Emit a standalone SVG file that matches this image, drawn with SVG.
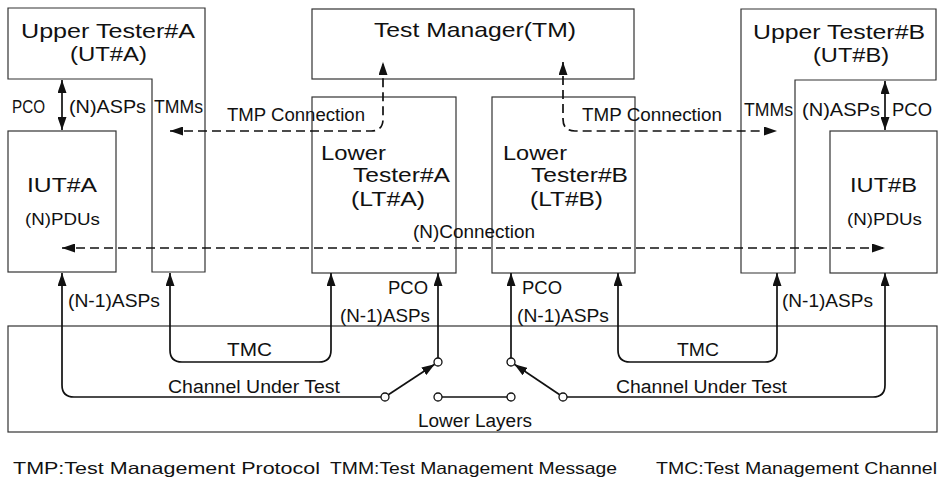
<svg xmlns="http://www.w3.org/2000/svg" width="944" height="479" viewBox="0 0 944 479">
<style>
text{font-family:"Liberation Sans",Arial,Helvetica,sans-serif;fill:#111;}
.big{font-size:21px;}
.med{font-size:18px;}
.sm{font-size:17px;}
.leg{font-size:16.5px;}
.box{fill:#fff;stroke:#333;stroke-width:1.2;}
.ln{fill:none;stroke:#111;stroke-width:1.7;}
.dash{fill:none;stroke:#111;stroke-width:1.7;stroke-dasharray:9 5;}
.sw{fill:#fff;stroke:#111;stroke-width:1.3;}
</style>
<defs>
<marker id="ah" viewBox="0 0 13 9" refX="13" refY="4.5" markerWidth="13" markerHeight="9" markerUnits="userSpaceOnUse" orient="auto-start-reverse">
<path d="M0,0 L13,4.5 L0,9 z" fill="#111"/>
</marker>
</defs>
<rect width="944" height="479" fill="#fff"/>

<g id="lower-layers">
<rect class="box" x="8" y="326" width="929" height="106"/>
<text class="med" x="418" y="427" textLength="114" lengthAdjust="spacingAndGlyphs">Lower Layers</text>
</g>

<g id="ut-a">
<polygon class="box" points="8,8 205,8 205,272 152,272 152,79 8,79"/>
<text class="big" x="21" y="38" textLength="174" lengthAdjust="spacingAndGlyphs">Upper Tester#A</text>
<text class="big" x="70" y="61" textLength="77" lengthAdjust="spacingAndGlyphs">(UT#A)</text>
</g>

<g id="iut-a">
<rect class="box" x="8" y="131" width="108" height="141"/>
<text class="big" x="27" y="192" textLength="70" lengthAdjust="spacingAndGlyphs">IUT#A</text>
<text class="sm" x="25" y="225" textLength="75" lengthAdjust="spacingAndGlyphs">(N)PDUs</text>
</g>

<g id="tm">
<rect class="box" x="312" y="9" width="322" height="70"/>
<text class="big" x="374" y="37" textLength="202" lengthAdjust="spacingAndGlyphs">Test Manager(TM)</text>
</g>

<g id="lt-a">
<rect class="box" x="312" y="97" width="144" height="176"/>
<text class="big" x="321" y="160" textLength="65" lengthAdjust="spacingAndGlyphs">Lower</text>
<text class="big" x="353" y="182" textLength="97" lengthAdjust="spacingAndGlyphs">Tester#A</text>
<text class="big" x="351" y="206" textLength="74" lengthAdjust="spacingAndGlyphs">(LT#A)</text>
</g>

<g id="lt-b">
<rect class="box" x="492" y="97" width="143" height="176"/>
<text class="big" x="503" y="160" textLength="64" lengthAdjust="spacingAndGlyphs">Lower</text>
<text class="big" x="531" y="182" textLength="97" lengthAdjust="spacingAndGlyphs">Tester#B</text>
<text class="big" x="530" y="206" textLength="73" lengthAdjust="spacingAndGlyphs">(LT#B)</text>
</g>

<g id="ut-b">
<polygon class="box" points="741,9 936,9 936,80 795,80 795,273 741,273"/>
<text class="big" x="753" y="39" textLength="172" lengthAdjust="spacingAndGlyphs">Upper Tester#B</text>
<text class="big" x="813" y="62" textLength="76" lengthAdjust="spacingAndGlyphs">(UT#B)</text>
</g>

<g id="iut-b">
<rect class="box" x="830" y="131" width="107" height="142"/>
<text class="big" x="850" y="192" textLength="67" lengthAdjust="spacingAndGlyphs">IUT#B</text>
<text class="sm" x="847" y="225" textLength="75" lengthAdjust="spacingAndGlyphs">(N)PDUs</text>
</g>

<g id="connectors">
<path class="ln" d="M62,80 V130" marker-start="url(#ah)" marker-end="url(#ah)"/>
<path class="ln" d="M885,81 V130" marker-start="url(#ah)" marker-end="url(#ah)"/>
<path class="dash" d="M170,131 H371 Q383,131 383,119 V62" marker-start="url(#ah)" marker-end="url(#ah)"/>
<path class="dash" d="M563,62 V119 Q563,131 575,131 H777" marker-start="url(#ah)" marker-end="url(#ah)"/>
<path class="dash" d="M62,248 H885" marker-start="url(#ah)" marker-end="url(#ah)"/>
<path class="ln" d="M62,273 V385 Q62,397 74,397 H381" marker-start="url(#ah)"/>
<path class="ln" d="M388.3,394.8 L434.7,364.2" marker-end="url(#ah)"/>
<path class="ln" d="M438,358 V273" marker-end="url(#ah)"/>
<path class="ln" d="M170,273 V350 Q170,362 182,362 H319 Q331,362 331,350 V273" marker-start="url(#ah)" marker-end="url(#ah)"/>
<path class="ln" d="M442,397 H507"/>
<path class="ln" d="M559.7,394.8 L514.3,364.3" marker-end="url(#ah)"/>
<path class="ln" d="M511,358 V273" marker-end="url(#ah)"/>
<path class="ln" d="M618,273 V350 Q618,362 630,362 H765 Q777,362 777,350 V273" marker-start="url(#ah)" marker-end="url(#ah)"/>
<path class="ln" d="M567,397 H873 Q885,397 885,385 V273" marker-end="url(#ah)"/>
<circle class="sw" cx="385" cy="397" r="4"/>
<circle class="sw" cx="438" cy="362" r="4"/>
<circle class="sw" cx="438" cy="397" r="4"/>
<circle class="sw" cx="511" cy="397" r="4"/>
<circle class="sw" cx="511" cy="362" r="4"/>
<circle class="sw" cx="563" cy="397" r="4"/>
<text class="med" x="12" y="113" textLength="33" lengthAdjust="spacingAndGlyphs">PCO</text>
<text class="med" x="69" y="113" textLength="77" lengthAdjust="spacingAndGlyphs">(N)ASPs</text>
<text class="med" x="154" y="113" textLength="49" lengthAdjust="spacingAndGlyphs">TMMs</text>
<text class="med" x="227" y="121" textLength="138" lengthAdjust="spacingAndGlyphs">TMP Connection</text>
<text class="med" x="582" y="121" textLength="140" lengthAdjust="spacingAndGlyphs">TMP Connection</text>
<text class="med" x="744" y="116" textLength="49" lengthAdjust="spacingAndGlyphs">TMMs</text>
<text class="med" x="802" y="116" textLength="78" lengthAdjust="spacingAndGlyphs">(N)ASPs</text>
<text class="med" x="892" y="116" textLength="40" lengthAdjust="spacingAndGlyphs">PCO</text>
<text class="med" x="413" y="238" textLength="122" lengthAdjust="spacingAndGlyphs">(N)Connection</text>
<text class="med" x="68" y="307" textLength="92" lengthAdjust="spacingAndGlyphs">(N-1)ASPs</text>
<text class="med" x="340" y="322" textLength="90" lengthAdjust="spacingAndGlyphs">(N-1)ASPs</text>
<text class="med" x="388" y="294" textLength="40" lengthAdjust="spacingAndGlyphs">PCO</text>
<text class="med" x="522" y="294" textLength="40" lengthAdjust="spacingAndGlyphs">PCO</text>
<text class="med" x="517" y="322" textLength="92" lengthAdjust="spacingAndGlyphs">(N-1)ASPs</text>
<text class="med" x="782" y="307" textLength="91" lengthAdjust="spacingAndGlyphs">(N-1)ASPs</text>
<text class="med" x="227" y="356" textLength="45" lengthAdjust="spacingAndGlyphs">TMC</text>
<text class="med" x="677" y="356" textLength="42" lengthAdjust="spacingAndGlyphs">TMC</text>
<text class="med" x="168" y="393" textLength="172" lengthAdjust="spacingAndGlyphs">Channel Under Test</text>
<text class="med" x="616" y="393" textLength="171" lengthAdjust="spacingAndGlyphs">Channel Under Test</text>
</g>

<g id="legend">
<text class="leg" x="13" y="474" textLength="307" lengthAdjust="spacingAndGlyphs">TMP:Test Management Protocol</text>
<text class="leg" x="330" y="474" textLength="287" lengthAdjust="spacingAndGlyphs">TMM:Test Management Message</text>
<text class="leg" x="656" y="474" textLength="281" lengthAdjust="spacingAndGlyphs">TMC:Test Management Channel</text>
</g>
</svg>
